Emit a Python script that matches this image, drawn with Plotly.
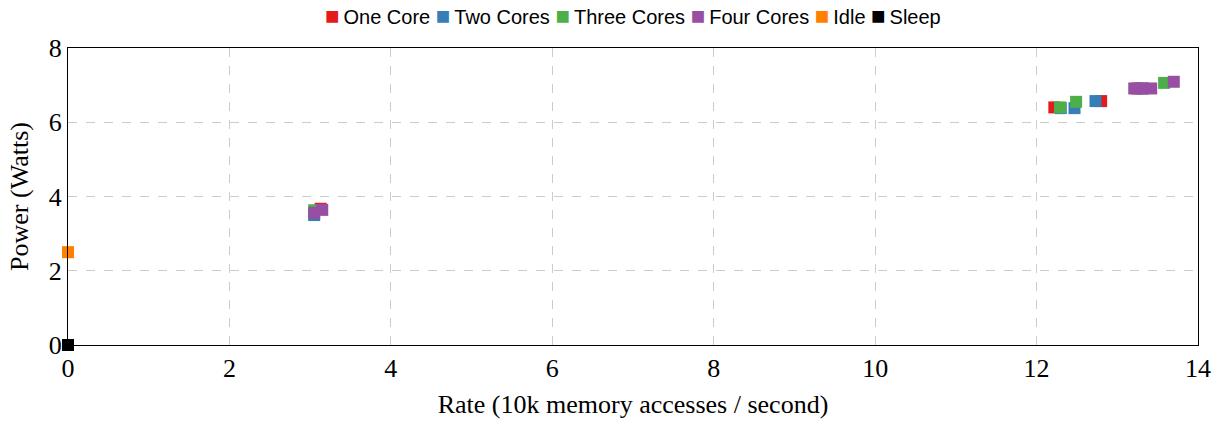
import plotly.graph_objects as go

# Measured power draw vs. memory access rate (10k accesses / second)
one_core_x = [3.13, 12.22, 12.80, 13.25]
one_core_y = [3.67, 6.40, 6.57, 6.91]

two_cores_x = [3.05, 12.30, 12.47, 12.73, 13.30]
two_cores_y = [3.50, 6.38, 6.38, 6.57, 6.91]

three_cores_x = [3.05, 12.29, 12.49, 13.58]
three_cores_y = [3.63, 6.40, 6.55, 7.06]

four_cores_x = [3.05, 3.15, 13.21, 13.32, 13.42, 13.70]
four_cores_y = [3.56, 3.64, 6.91, 6.91, 6.91, 7.09]

idle_x = [0.0]
idle_y = [2.50]

sleep_x = [0.0]
sleep_y = [0.0]

series = [
    ("One Core", one_core_x, one_core_y, "#e41a1c"),
    ("Two Cores", two_cores_x, two_cores_y, "#377eb8"),
    ("Three Cores", three_cores_x, three_cores_y, "#4daf4a"),
    ("Four Cores", four_cores_x, four_cores_y, "#984ea3"),
    ("Idle", idle_x, idle_y, "#ff7f00"),
    ("Sleep", sleep_x, sleep_y, "#000000"),
]

x_ticks = [0, 2, 4, 6, 8, 10, 12, 14]
y_ticks = [0, 2, 4, 6, 8]

fig = go.Figure()
for name, xs, ys, color in series:
    fig.add_trace(go.Scatter(
        x=xs, y=ys, name=name, mode="markers",
        marker=dict(symbol="square", size=12, color=color, line=dict(width=0)),
        cliponaxis=False, showlegend=False,
    ))

# Compact horizontal key above the plot
legend_html = " ".join(
    f'<span style="color:{color};font-size:24px">■</span>\u2009{name}'
    for name, _, _, color in series
)
fig.add_annotation(
    text=legend_html, xref="paper", yref="paper", x=0.5, y=1.0,
    yshift=33, showarrow=False, xanchor="center", yanchor="middle",
    font=dict(family="Liberation Sans, Arial, sans-serif", size=20, color="black"),
)

serif = "Liberation Serif, Times New Roman, serif"
axis_common = dict(
    showline=True, linecolor="black", linewidth=1, mirror=True,
    showgrid=True, gridcolor="#cccccc", griddash="dash", gridwidth=1,
    zeroline=False, ticks="", automargin=False,
    tickfont=dict(family=serif, size=26, color="black"),
    title_font=dict(family=serif, size=26, color="black"),
)

fig.update_xaxes(range=[0, 14], tickvals=x_ticks, title_text="Rate (10k memory accesses / second)",
                 title_standoff=12, **axis_common)
fig.update_yaxes(range=[0, 8], tickvals=y_ticks, title_text="Power (Watts)",
                 title_standoff=12, **axis_common)

fig.update_layout(
    width=1215, height=421,
    margin=dict(l=68, r=17, t=48, b=76),
    plot_bgcolor="white", paper_bgcolor="white",
)

fig.write_html("out.html")
